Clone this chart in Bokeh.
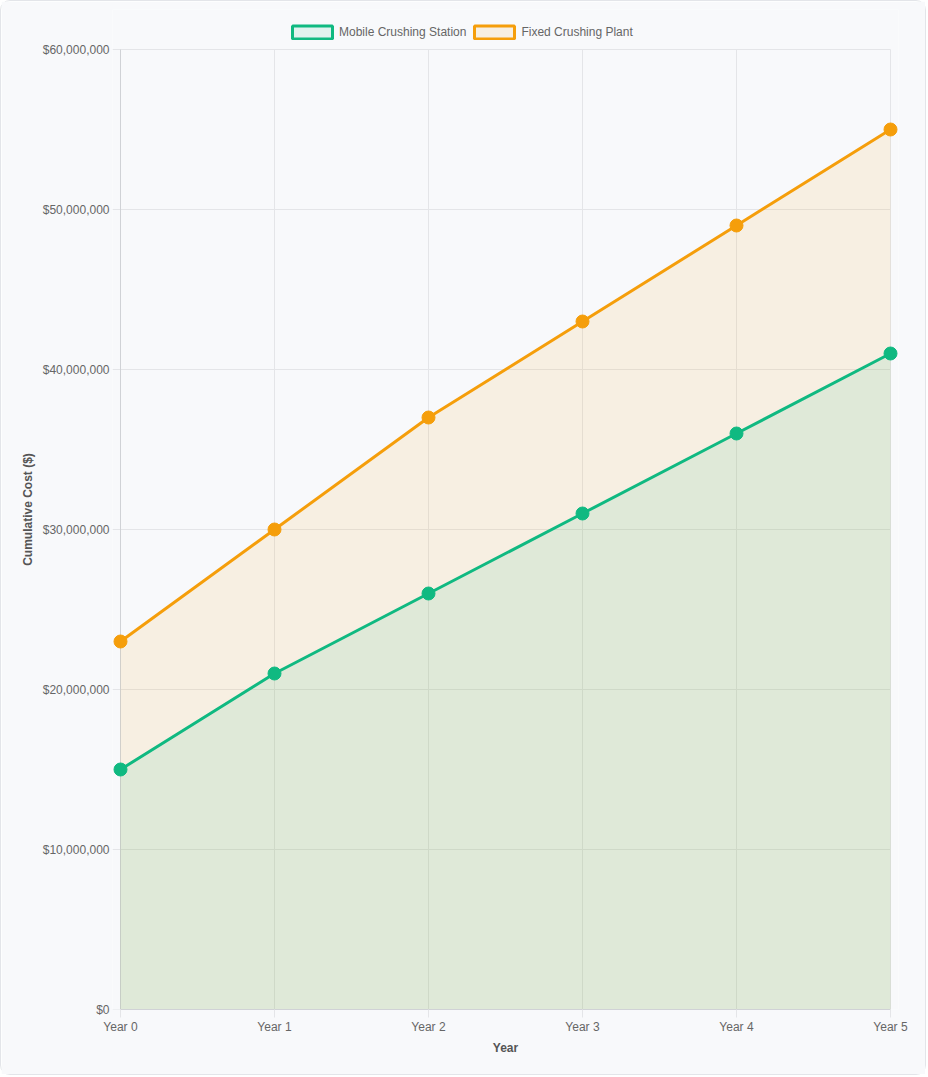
from bokeh.plotting import figure
from bokeh.models import (ColumnDataSource, Legend, LegendItem, NumeralTickFormatter,
                          FixedTicker, Range1d)
from bokeh.embed import file_html
from bokeh.resources import INLINE

years = ["Year 0", "Year 1", "Year 2", "Year 3", "Year 4", "Year 5"]
mobile = [15000000, 21000000, 26000000, 31000000, 36000000, 41000000]
fixed = [23000000, 30000000, 37000000, 43000000, 49000000, 55000000]
y_ticks = [0, 10000000, 20000000, 30000000, 40000000, 50000000, 60000000]
y_max = 60000000

GREEN = "#10b981"
ORANGE = "#f59e0b"
BG = "#f8f9fb"
GRID = "#e4e5e8"
AXIS = "#d0d2d6"
TXT = "#666666"
FONT = "Liberation Sans"

xs = list(range(len(years)))
x_last = len(years) - 1
pad = 8 / 154.0          # 8 px margin each side so edge markers are not clipped
src = ColumnDataSource(dict(x=xs, mobile=mobile, fixed=fixed, zero=[0] * len(xs)))

# frame extends above the top tick to host the legend (40 px = 2.5M at 16 px/M)
p = figure(width=926, height=1075, output_backend="svg", toolbar_location=None,
           x_range=Range1d(-pad, x_last + pad), y_range=Range1d(0, y_max * 1.0416667),
           min_border_left=111, min_border_right=29, min_border_top=8, min_border_bottom=67)
p.background_fill_color = BG
p.border_fill_color = BG
p.outline_line_color = None
p.styles = {"border": "1px solid #e3e5e9", "border-radius": "10px"}

# grid lines (drawn as segments so they stop at the data extent)
p.xgrid.visible = False
p.ygrid.visible = False
p.segment(x0=xs, y0=[0] * len(xs), x1=xs, y1=[y_max] * len(xs),
          line_color=GRID, line_width=1, level="underlay")
p.segment(x0=[-pad] * len(y_ticks), y0=y_ticks, x1=[x_last] * len(y_ticks), y1=y_ticks,
          line_color=GRID, line_width=1, level="underlay")
p.segment(x0=[0], y0=[0], x1=[0], y1=[y_max], line_color=AXIS, line_width=1)

p.varea(x="x", y1="zero", y2="fixed", source=src, fill_color=ORANGE, fill_alpha=0.1)
p.varea(x="x", y1="zero", y2="mobile", source=src, fill_color=GREEN, fill_alpha=0.1)
p.line(x="x", y="fixed", source=src, line_color=ORANGE, line_width=3)
p.line(x="x", y="mobile", source=src, line_color=GREEN, line_width=3)
p.scatter(x="x", y="fixed", source=src, size=13, fill_color=ORANGE, line_color=ORANGE)
p.scatter(x="x", y="mobile", source=src, size=13, fill_color=GREEN, line_color=GREEN)

# legend proxies (not visible in the plot)
nan = float("nan")
lg_m = p.quad(left=[nan], right=[nan], top=[nan], bottom=[nan], fill_color=GREEN,
              fill_alpha=0.1, line_color=GREEN, line_width=3)
lg_f = p.quad(left=[nan], right=[nan], top=[nan], bottom=[nan], fill_color=ORANGE,
              fill_alpha=0.1, line_color=ORANGE, line_width=3)
legend = Legend(items=[LegendItem(label="Mobile Crushing Station", renderers=[lg_m]),
                       LegendItem(label="Fixed Crushing Plant", renderers=[lg_f])],
                orientation="horizontal", location=(175, 969), padding=0, margin=0,
                spacing=3, glyph_width=50, glyph_height=16, label_standoff=2,
                label_text_font=FONT, label_text_font_size="12px", label_text_color=TXT,
                label_height=15, border_line_color=None, background_fill_alpha=0)
p.add_layout(legend, "center")

# axes
p.xaxis.ticker = FixedTicker(ticks=xs)
p.xaxis.major_label_overrides = {i: y for i, y in enumerate(years)}
p.xaxis.bounds = (0, x_last)
p.yaxis.ticker = FixedTicker(ticks=y_ticks)
p.yaxis.formatter = NumeralTickFormatter(format="$0,0")
for ax in (p.xaxis[0], p.yaxis[0]):
    ax.major_label_text_font = FONT
    ax.major_label_text_font_size = "12px"
    ax.major_label_text_color = TXT
    ax.major_tick_line_color = GRID
    ax.major_tick_out = 8
    ax.major_tick_in = 0
    ax.minor_tick_line_color = None
    ax.axis_line_color = AXIS
    ax.axis_label_text_font = FONT
    ax.axis_label_text_font_size = "12px"
    ax.axis_label_text_font_style = "bold"
    ax.axis_label_text_color = "#555555"
p.yaxis.major_tick_line_color = None
p.yaxis.major_tick_out = 0
p.yaxis.axis_line_color = None
p.xaxis.axis_label = "Year"
p.yaxis.axis_label = "Cumulative Cost ($)"
p.xaxis.major_label_standoff = 2
p.yaxis.major_label_standoff = 3
p.xaxis.axis_label_standoff = 4
p.yaxis.axis_label_standoff = 5

open("out.html", "w").write(file_html(p, INLINE))
